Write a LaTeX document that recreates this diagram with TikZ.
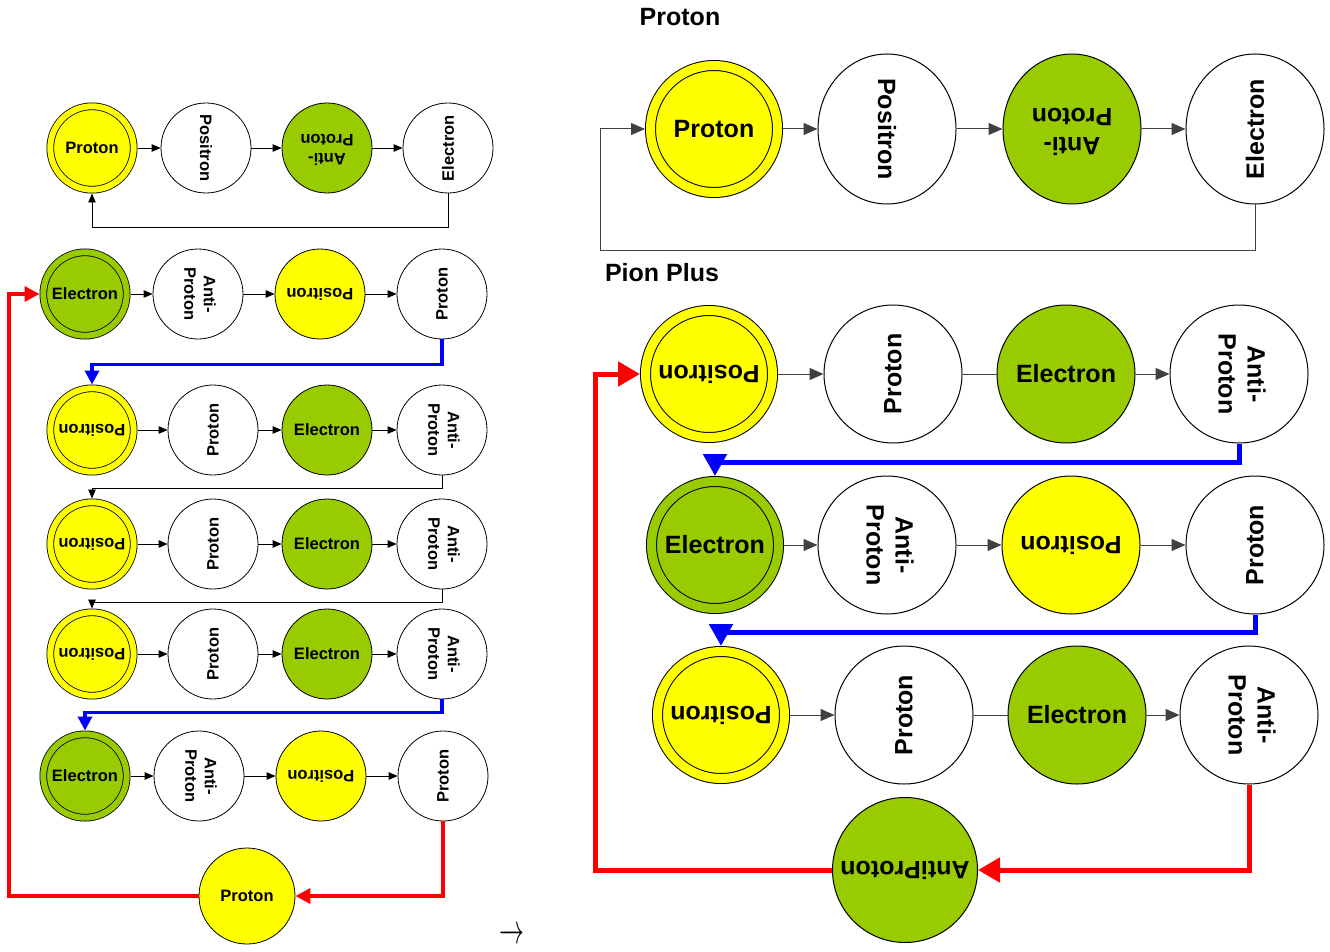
\documentclass[tikz,border=0pt]{standalone}
\usepackage{fontspec}
\setmainfont{Liberation Sans}
\usetikzlibrary{arrows.meta,shapes.geometric}
\definecolor{yel}{HTML}{FFFF00}
\definecolor{grn}{HTML}{99CC00}
\newcommand\lfnt{\fontsize{16.5}{19.5}\selectfont\bfseries}
\newcommand\rfnt{\fontsize{25}{29}\selectfont\bfseries}
\newcommand\RU[1]{\rotatebox{90}{#1}}
\newcommand\RD[1]{\rotatebox{-90}{#1}}
\newcommand\RF[1]{\rotatebox{180}{#1}}
\newcommand\AntiP{\begin{tabular}{@{}c@{}}Anti-\\Proton\end{tabular}}
\tikzset{
  lc/.style={circle, draw=black, line width=0.8pt, minimum size=90pt, inner sep=0pt, font=\lfnt},
  ldc/.style={lc, double distance=6pt, minimum size=83.4pt, outer sep=3.8pt},
  rc/.style={circle, draw=black, line width=1pt, minimum size=138pt, inner sep=0pt, font=\rfnt},
  rdc/.style={rc, double distance=9pt, minimum size=127pt, outer sep=5.5pt},
  re/.style={ellipse, draw=black, line width=1pt, minimum width=138pt, minimum height=150pt, inner sep=0pt, font=\rfnt},
  yf/.style={fill=yel},
  gf/.style={fill=grn},
  yd/.style={fill=yel, double=yel},
  gd/.style={fill=grn, double=grn},
  wf/.style={fill=white},
  lar/.style={draw=black, line width=0.8pt, -{Triangle[length=9pt,width=7.5pt]}},
  rar/.style={draw=black!75, line width=1pt, -{Triangle[length=14pt,width=12pt]}},
  rln/.style={draw=black!75, line width=1pt},
  lblue/.style={draw=blue, line width=3.5pt, -{Triangle[length=14pt,width=14pt]}},
  rblue/.style={draw=blue, line width=5pt, -{Triangle[length=22pt,width=23pt]}},
  lred/.style={draw=red, line width=3.5pt, -{Triangle[length=15pt,width=15pt]}},
  rred/.style={draw=red, line width=5pt, -{Triangle[length=22pt,width=24pt]}},
  ttl/.style={font=\rfnt, inner sep=0pt}
}
\begin{document}
\begin{tikzpicture}[x=1pt,y=-1pt]
\useasboundingbox (0,0) rectangle (1330,952);
% ---------------- left column ----------------
\node[ldc,yd] (L1a) at (92,148) {Proton};
\node[lc,wf]  (L1b) at (206,148) {\RD{Positron}};
\node[lc,gf]  (L1c) at (327,148) {\RF{\AntiP}};
\node[lc,wf]  (L1d) at (448,148) {\RU{Electron}};

\node[ldc,gd] (L2a) at (85,294) {Electron};
\node[lc,wf]  (L2b) at (198,294) {\RD{\AntiP}};
\node[lc,yf]  (L2c) at (320,294) {\RF{Positron}};
\node[lc,wf]  (L2d) at (442,294) {\RU{Proton}};

\node[ldc,yd] (L3a) at (92,430) {\RF{Positron}};
\node[lc,wf]  (L3b) at (213,430) {\RU{Proton}};
\node[lc,gf]  (L3c) at (327,430) {Electron};
\node[lc,wf]  (L3d) at (442,430) {\RD{\AntiP}};

\node[ldc,yd] (L4a) at (92,544) {\RF{Positron}};
\node[lc,wf]  (L4b) at (213,544) {\RU{Proton}};
\node[lc,gf]  (L4c) at (327,544) {Electron};
\node[lc,wf]  (L4d) at (442,544) {\RD{\AntiP}};

\node[ldc,yd] (L5a) at (92,654) {\RF{Positron}};
\node[lc,wf]  (L5b) at (213,654) {\RU{Proton}};
\node[lc,gf]  (L5c) at (327,654) {Electron};
\node[lc,wf]  (L5d) at (442,654) {\RD{\AntiP}};

\node[ldc,gd] (L6a) at (85,776) {Electron};
\node[lc,wf]  (L6b) at (199,776) {\RD{\AntiP}};
\node[lc,yf]  (L6c) at (321,776) {\RF{Positron}};
\node[lc,wf]  (L6d) at (443,776) {\RU{Proton}};

\node[lc,yf,minimum size=96pt] (LP) at (247,896) {Proton};

\foreach \r in {1,...,6}{
  \draw[lar] (L\r a) -- (L\r b);
  \draw[lar] (L\r b) -- (L\r c);
  \draw[lar] (L\r c) -- (L\r d);
}
\draw[lar] (L1d.south) -- ++(0,34) -| (L1a.south);
\draw[lblue] (L2d.south) -- ++(0,25) -| (L3a.north);
\draw[lar] (L3d.south) -- ++(0,13) -| (L4a.north);
\draw[lar] (L4d.south) -- ++(0,13) -| (L5a.north);
\draw[lblue] (L5d.south) -- ++(0,13) -| (L6a.north);
\draw[lred] (L6d.south) |- (LP.east);
\coordinate (lr) at (9,896);
\draw[lred] (LP.west) -- (lr) |- (L2a.west);

\node[inner sep=0pt] (arrsym) at (512,936) {\fontsize{26}{28}\selectfont\scalebox{1}[1.7]{$\rightarrow$}};

% ---------------- right column ----------------
\node[ttl] (tProton) at (680,17) {Proton};
\node[ttl] (tPion) at (662,273) {Pion Plus};

\node[rdc,yd] (R1a) at (714,129) {Proton};
\node[re,wf]  (R1b) at (887,129) {\RD{Positron}};
\node[re,gf]  (R1c) at (1072,129) {\RF{\AntiP}};
\node[re,wf]  (R1d) at (1255,129) {\RU{Electron}};
\draw[rar] (R1a) -- (R1b);
\draw[rar] (R1b) -- (R1c);
\draw[rar] (R1c) -- (R1d);
\coordinate (rfb) at (600,250);
\draw[rar] (R1d.south) |- (rfb) |- (R1a.west);

\node[rdc,yd] (P1a) at (709,374) {\RF{Positron}};
\node[rc,wf]  (P1b) at (893,374) {\RU{Proton}};
\node[rc,gf]  (P1c) at (1066,374) {Electron};
\node[rc,wf]  (P1d) at (1239,374) {\RD{\AntiP}};
\draw[rar] (P1a) -- (P1b);
\draw[rln] (P1b) -- (P1c);
\draw[rar] (P1c) -- (P1d);

\node[rdc,gd] (P2a) at (715,545) {Electron};
\node[rc,wf]  (P2b) at (887,545) {\RD{\AntiP}};
\node[rc,yf]  (P2c) at (1071,545) {\RF{Positron}};
\node[rc,wf]  (P2d) at (1255,545) {\RU{Proton}};
\draw[rar] (P2a) -- (P2b);
\draw[rar] (P2b) -- (P2c);
\draw[rar] (P2c) -- (P2d);

\node[rdc,yd] (P3a) at (721,715) {\RF{Positron}};
\node[rc,wf]  (P3b) at (904,715) {\RU{Proton}};
\node[rc,gf]  (P3c) at (1077,715) {Electron};
\node[rc,wf]  (P3d) at (1249,715) {\RD{\AntiP}};
\draw[rar] (P3a) -- (P3b);
\draw[rln] (P3b) -- (P3c);
\draw[rar] (P3c) -- (P3d);

\node[rc,gf,minimum size=145pt] (AP) at (905,870) {\RF{AntiProton}};

\draw[rblue] (P1d.south) -- ++(0,19) -| (P2a.north);
\draw[rblue] (P2d.south) -- ++(0,18) -| (P3a.north);
\draw[rred] (P3d.south) |- (AP.east);
\coordinate (rr) at (595,870);
\draw[rred] (AP.west) -- (rr) |- (P1a.west);
\end{tikzpicture}
\end{document}
